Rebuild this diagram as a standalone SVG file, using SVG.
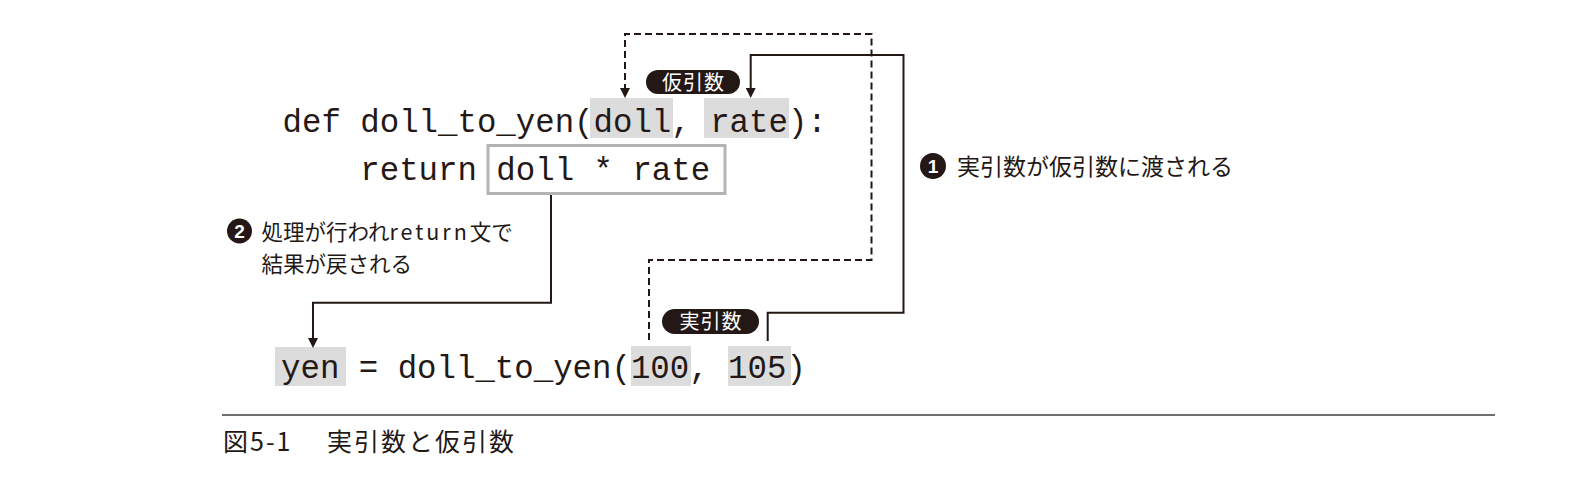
<svg xmlns="http://www.w3.org/2000/svg" width="1586" height="477" viewBox="0 0 1586 477">
<defs>
<style>
.code{font-family:"Liberation Mono","DejaVu Sans Mono",monospace;font-size:32.4px;fill:#231815}
.hl{fill:#dcdcdc}
.jp{font-family:"Noto Sans CJK JP","Noto Sans",sans-serif;fill:#231815}
.pill{fill:#231815}
.pilltxt{font-family:"Noto Sans CJK JP",sans-serif;font-size:20px;fill:#ffffff;text-anchor:middle;letter-spacing:1px}
.num{font-family:"Liberation Sans","Noto Sans",sans-serif;font-size:19px;font-weight:bold;fill:#ffffff;text-anchor:middle}
.ln{fill:none;stroke:#231815;stroke-width:2}
.dash{stroke-dasharray:7 4}
</style>
<marker id="ah" viewBox="0 0 10 10" refX="0" refY="5" markerWidth="10" markerHeight="10" markerUnits="userSpaceOnUse" orient="auto">
<path d="M0,0 L10,5 L0,10 z" fill="#231815"/>
</marker>
</defs>
<rect width="1586" height="477" fill="#ffffff"/>

<g id="def-line">
<rect class="hl" x="590" y="98" width="83" height="40"/>
<rect class="hl" x="704" y="98" width="85" height="40"/>
<text class="code" x="282.5" y="131.5">def doll_to_yen(doll, rate):</text>
</g>

<g id="return-line">
<rect x="488" y="145.5" width="237" height="48" fill="none" stroke="#b3b3b3" stroke-width="3"/>
<text class="code" x="360.3" y="180">return doll * rate</text>
</g>

<g id="call-line">
<rect class="hl" x="275" y="347" width="71" height="39"/>
<rect class="hl" x="631" y="346" width="60" height="40"/>
<rect class="hl" x="728" y="346" width="63" height="40"/>
<text class="code" x="281" y="378">yen = doll_to_yen(100, 105)</text>
</g>

<g id="label-formal">
<rect class="pill" x="646" y="70" width="94" height="24" rx="12"/>
<text class="pilltxt" x="693.5" y="89.5">仮引数</text>
</g>

<g id="label-actual">
<rect class="pill" x="662" y="309" width="97" height="25" rx="12.5"/>
<text class="pilltxt" x="711" y="329">実引数</text>
</g>

<g id="note-1">
<circle cx="933" cy="166" r="13" fill="#231815"/>
<text class="num" x="933" y="172.5">1</text>
<text class="jp" x="957" y="175" font-size="23">実引数が仮引数に渡される</text>
</g>

<g id="note-2">
<circle cx="239.5" cy="231" r="12.5" fill="#231815"/>
<text class="num" x="239.5" y="237.5">2</text>
<text class="jp" x="261.5" y="240" font-size="21.5">処理が行われ<tspan letter-spacing="3">return</tspan>文で</text>
<text class="jp" x="261.5" y="271.5" font-size="21.5">結果が戻される</text>
</g>

<g id="connectors">
<path class="ln dash" d="M649,340 V260 H871.5 V34 H625 V88" marker-end="url(#ah)"/>
<path class="ln" d="M767.7,341 V312.7 H903.5 V55 H750.7 V88" marker-end="url(#ah)"/>
<path class="ln" d="M551,195 V302.7 H313 V338" marker-end="url(#ah)"/>
</g>

<g id="caption">
<line x1="222" y1="415" x2="1495" y2="415" stroke="#6e6e6e" stroke-width="2"/>
<text class="jp" x="223" y="451" font-size="25" letter-spacing="2">図5-1</text>
<text class="jp" x="327" y="451" font-size="25" letter-spacing="2">実引数と仮引数</text>
</g>
</svg>
